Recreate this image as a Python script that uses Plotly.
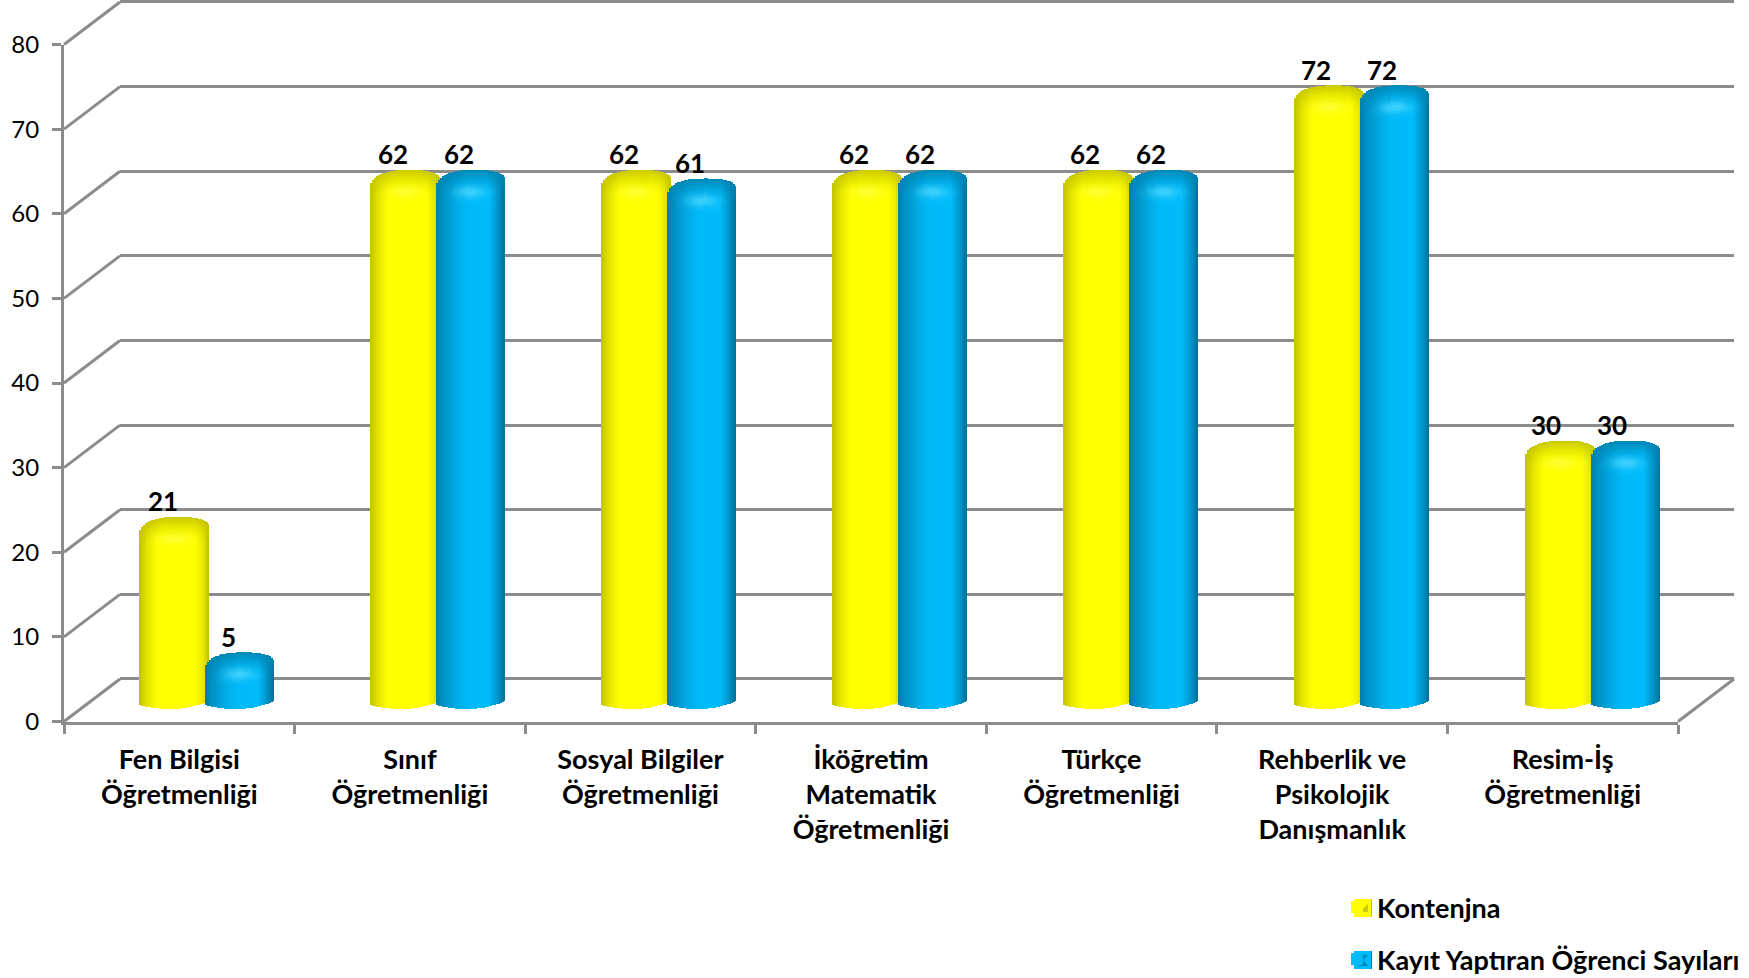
import math
import plotly.graph_objects as go

W, H = 1749, 978

categories = ["Fen Bilgisi<br>Öğretmenliği", "Sınıf<br>Öğretmenliği", "Sosyal Bilgiler<br>Öğretmenliği",
              "İköğretim<br>Matematik<br>Öğretmenliği", "Türkçe<br>Öğretmenliği",
              "Rehberlik ve<br>Psikolojik<br>Danışmanlık", "Resim-İş<br>Öğretmenliği"]
kontenjan = [21, 62, 62, 62, 62, 72, 30]
kayit = [5, 62, 61, 62, 62, 72, 30]
y_ticks = [0, 10, 20, 30, 40, 50, 60, 70, 80]
series_names = ["Kontenjna", "Kayıt Yaptıran Öğrenci Sayıları"]

FONT = "Lato"
GRID = "#8c8c8c"
TEXT = "#000000"

# pixel geometry of the pseudo-3D box
FX0, FX1 = 64, 1678          # front floor edge
DX, DY = 56, 42.5            # box depth on screen
Y0, Y80 = 721.5, 44.5        # front plane, values 0 and 80
PX = (Y0 - Y80) / 80         # pixels per value
CAT = (FX1 - FX0) / 7
CAT_BARS = 231.05            # category spacing of the cylinders
BAR_X0 = 207.4 - CAT_BARS / 2
BASE = 702                   # pixel row of value 0 in the plane of the cylinders
PLOT_BOTTOM = 730


def dx(a, b):
    return [a / W, b / W]


def dy(top, bottom):
    return [1 - bottom / H, 1 - top / H]


def hexrgb(s):
    return tuple(int(s[i:i + 2], 16) for i in (1, 3, 5))


def mix(a, b, t):
    return tuple(a[i] + (b[i] - a[i]) * t for i in range(3))


def css(c):
    return "rgb(%d,%d,%d)" % tuple(round(max(0, min(255, v))) for v in c)


def profile(stops, u):
    for (u0, c0), (u1, c1) in zip(stops, stops[1:]):
        if u <= u1:
            return mix(hexrgb(c0), hexrgb(c1), (u - u0) / (u1 - u0))
    return hexrgb(stops[-1][1])


YELLOW = [(0, "#C2C200"), (.12, "#E6E600"), (.26, "#FFFF00"), (.8, "#FFFF00"), (.92, "#E8E800"), (1, "#BCBC00")]
BLUE = [(0, "#007BA8"), (.1, "#0092C6"), (.3, "#00ACE6"), (.46, "#00BAF8"), (.76, "#00BBFA"), (.9, "#0092C6"), (1, "#006E98")]

STRIPS = 36
STEP = 2
CAP_SEG = 16


def top_drop(u):
    p = 2.6
    if u < .56:
        x, s = (.56 - u) / .56, 20
    else:
        x, s = (u - .56) / .44, 12
    return s * (1 - (1 - x ** p) ** (1 / p))


def bottom_row(u):
    if u < .45:
        return 709 - 4 * ((.45 - u) / .45) ** 2
    return 709 - 8 * ((u - .45) / .55) ** 2


def shading(values, start, width, stops, dark, glow, name):
    xs, ys, bases, offs, wids, cols = [], [], [], [], [], []
    for i, v in enumerate(values):
        apex = BASE - v * PX - 7.3
        for s in range(STRIPS):
            u = (s + .5) / STRIPS
            hc = profile(stops, u)
            top = apex + top_drop(u)
            bot = bottom_row(u)
            off = start + width * s / STRIPS
            wid = width / STRIPS * (1.35 if s < STRIPS - 1 else 1)

            def add(row_top, row_bot, color):
                xs.append(categories[i])
                bases.append((BASE - row_bot) / PX)
                ys.append((row_bot - row_top) / PX)
                offs.append(off)
                wids.append(wid)
                cols.append(css(color))

            add(top + CAP_SEG * STEP, bot, hc)
            for k in range(CAP_SEG):
                d = (k + .5) * STEP
                rel = top + d - apex
                f = max(0.0, 1 - d / 24) ** 1.6
                c = mix(hc, hexrgb(dark), f * .95)
                g = math.exp(-((u - .5) * 70 / 15) ** 2 - ((rel - 22) / 6) ** 2)
                c = mix(c, hexrgb(glow), g * .75)
                add(top + k * STEP, top + (k + 1) * STEP + .8, c)
    return go.Bar(x=xs, y=ys, base=bases, offset=offs, width=wids,
                  marker=dict(color=cols, line=dict(width=0)),
                  xaxis="x3", yaxis="y3", showlegend=False, hoverinfo="skip", name=name)


fig = go.Figure()

# back wall subplot and front-axis subplot
fig.add_trace(go.Scatter(x=[0], y=[None], xaxis="x", yaxis="y", showlegend=False, hoverinfo="skip"))
fig.add_trace(go.Scatter(x=categories, y=[None] * 7, xaxis="x2", yaxis="y2", showlegend=False, hoverinfo="skip"))

Y_START = (139 - 207.4) / CAT_BARS
B_START = (205 - 207.4) / CAT_BARS
series = [(kontenjan, Y_START, 70 / CAT_BARS, YELLOW, "#C6C600", "#FFFF40", "#FFFF00", series_names[0], "a"),
          (kayit, B_START, 69 / CAT_BARS, BLUE, "#0085B2", "#4FD8FF", "#00BBFA", series_names[1], "b")]
for vals, start, wcat, stops, dark, glow, flat, name, grp in series:
    # the series itself: carries the legend entry, shown through the shaded cylinder strips built on the same values
    fig.add_trace(go.Bar(x=categories, y=vals, offset=start, width=wcat, name=name, legendgroup=grp,
                         marker=dict(color=flat, opacity=0, line=dict(width=0)), xaxis="x3", yaxis="y3"))
    fig.add_trace(shading(vals, start, wcat, stops, dark, glow, name))

# value labels sit on the rear plane's scale
annotations = []
for vals, off in ((kontenjan, -.0716), (kayit, .2144)):
    for i, v in enumerate(vals):
        annotations.append(dict(x=i + off, y=v, xref="x2", yref="y", text=f"<b>{v}</b>", showarrow=False,
                                xanchor="center", yanchor="middle",
                                font=dict(family=FONT, size=26, color=TEXT)))

# depth lines of the box
shapes = []
line = dict(color=GRID, width=3)
for v in y_ticks:
    y = Y0 - v * PX
    shapes.append(dict(type="line", xref="paper", yref="paper", layer="below",
                       x0=FX0 / W, x1=(FX0 + DX) / W, y0=1 - y / H, y1=1 - (y - DY) / H, line=line))
shapes.append(dict(type="line", xref="paper", yref="paper", layer="below",
                   x0=FX1 / W, x1=(FX1 + DX) / W, y0=1 - Y0 / H, y1=1 - (Y0 - DY) / H, line=line))


# legend swatches with their bevel
def swatch(x0, y0, size, fill, facet, points):
    xs = lambda px: px / W
    ys = lambda px: 1 - px / H
    out = [dict(type="rect", xref="paper", yref="paper", x0=xs(x0), x1=xs(x0 + size), y0=ys(y0), y1=ys(y0 + size),
                fillcolor=fill, line=dict(width=0), layer="above")]
    path = "M " + " L ".join("%f %f" % (xs(x0 + a), ys(y0 + b)) for a, b in points) + " Z"
    out.append(dict(type="path", xref="paper", yref="paper", path=path, fillcolor=facet, line=dict(width=0),
                    opacity=.8, layer="above"))
    out.append(dict(type="rect", xref="paper", yref="paper", x0=xs(x0 + size - 1), x1=xs(x0 + size), y0=ys(y0),
                    y1=ys(y0 + size), fillcolor=facet, line=dict(width=0), layer="above"))
    return out


shapes += swatch(1354, 899, 18, "#FFFF00", "#BDBD20", [(5, 13), (14, 5), (14, 13)])
shapes += swatch(1354, 951, 18, "#00BBFA", "#0077A6", [(4, 4), (14, 4), (9, 9), (14, 15), (4, 15), (9, 9)])

tickfont_y = dict(family=FONT, size=24, color=TEXT)
fig.update_layout(
    width=W, height=H, margin=dict(l=0, r=0, t=0, b=0, autoexpand=False), autosize=False,
    paper_bgcolor="white", plot_bgcolor="rgba(0,0,0,0)", barmode="overlay", bargap=0,
    font=dict(family=FONT, color=TEXT),
    xaxis=dict(domain=dx(FX0 + DX, FX1 + DX), range=[0, 1], visible=False, fixedrange=True, automargin=False),
    yaxis=dict(domain=dy(Y80 - DY - .2 * PX, Y0 - DY + PX), range=[-1, 80.2], tickmode="array", tickvals=y_ticks,
               showgrid=True, gridcolor=GRID, gridwidth=3, zeroline=False, showline=False,
               showticklabels=False, ticks="", anchor="x", fixedrange=True, automargin=False),
    xaxis2=dict(domain=dx(FX0, FX1), type="category", categoryorder="array", categoryarray=categories,
                range=[-.5, 6.5], tickson="boundaries", ticks="outside", ticklen=9, tickwidth=3, tickcolor=GRID,
                showline=True, linecolor=GRID, linewidth=3, showgrid=False, zeroline=False, anchor="y2",
                tickfont=dict(family=FONT, size=27, color=TEXT, weight=700), tickangle=0, fixedrange=True,
                ticklabelstandoff=12, automargin=False),
    yaxis2=dict(domain=dy(Y80, Y0), range=[0, 80], tickmode="array", tickvals=y_ticks,
                ticks="outside", ticklen=9, tickwidth=3, tickcolor=GRID, showline=True, linecolor=GRID, linewidth=3,
                showgrid=False, zeroline=False, anchor="x2", tickfont=tickfont_y, ticklabelstandoff=8, fixedrange=True,
                automargin=False),
    xaxis3=dict(domain=dx(BAR_X0, BAR_X0 + 7 * CAT_BARS), type="category", categoryorder="array",
                categoryarray=categories, range=[-.5, 6.5], visible=False, anchor="y3", fixedrange=True,
                automargin=False),
    yaxis3=dict(domain=dy(0, PLOT_BOTTOM), range=[(BASE - PLOT_BOTTOM) / PX, BASE / PX], visible=False,
                anchor="x3", fixedrange=True, automargin=False),
    legend=dict(x=1337 / W, y=1 - 883 / H, xanchor="left", yanchor="top", bgcolor="rgba(0,0,0,0)",
                font=dict(family=FONT, size=27, color=TEXT, weight=700), tracegroupgap=14, traceorder="grouped"),
    annotations=annotations, shapes=shapes,
)

fig.write_html("out.html", config=dict(displayModeBar=False),
               post_script="document.body.style.margin='0';document.body.style.overflow='hidden';")
